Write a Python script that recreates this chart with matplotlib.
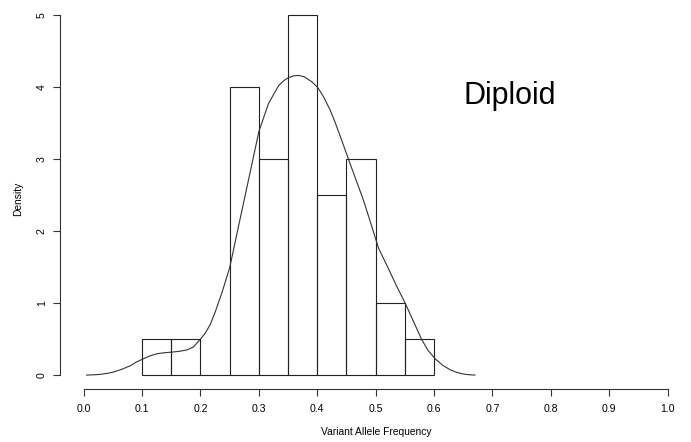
import matplotlib
matplotlib.use("Agg")
import matplotlib.pyplot as plt

plt.rcParams['font.family'] = ['Liberation Sans', 'DejaVu Sans']

# histogram of variant allele frequency (density scale)
bin_left = [0.10, 0.15, 0.20, 0.25, 0.30, 0.35, 0.40, 0.45, 0.50, 0.55]
bin_width = 0.05
density = [0.5, 0.5, 0.0, 4.0, 3.0, 5.0, 2.5, 3.0, 1.0, 0.5]

# kernel density curve
kde_x = [0.005, 0.02, 0.03, 0.041, 0.051, 0.065, 0.080, 0.090, 0.101, 0.113,
         0.125, 0.138, 0.151, 0.164, 0.177, 0.188, 0.200, 0.208, 0.2166, 0.225,
         0.237, 0.250, 0.265, 0.282, 0.300, 0.3165, 0.334, 0.343, 0.351, 0.360,
         0.368, 0.378, 0.391, 0.401, 0.411, 0.422, 0.430, 0.440, 0.4507, 0.460,
         0.470, 0.479, 0.490, 0.505, 0.520, 0.535, 0.5505, 0.565, 0.579, 0.590,
         0.602, 0.615, 0.628, 0.637, 0.645, 0.653, 0.661, 0.670]
kde_y = [0.0, 0.005, 0.012, 0.025, 0.042, 0.08, 0.13, 0.18, 0.222, 0.265,
         0.296, 0.31, 0.319, 0.33, 0.35, 0.39, 0.50, 0.58, 0.70, 0.87,
         1.15, 1.49, 2.06, 2.70, 3.38, 3.77, 4.02, 4.09, 4.13, 4.155,
         4.16, 4.14, 4.07, 3.99, 3.86, 3.68, 3.52, 3.30, 3.06, 2.85,
         2.63, 2.43, 2.15, 1.76, 1.51, 1.25, 1.0, 0.74, 0.49, 0.34,
         0.225, 0.135, 0.072, 0.043, 0.024, 0.011, 0.004, 0.0]

x_ticks = [0.0, 0.1, 0.2, 0.3, 0.4, 0.5, 0.6, 0.7, 0.8, 0.9, 1.0]
y_ticks = [0, 1, 2, 3, 4, 5]

fig = plt.figure(figsize=(6.91, 4.42), dpi=100)
ax = fig.add_axes([0.0873, 0.1188, 0.9127, 0.8801])

ax.bar(bin_left, density, width=bin_width, align='edge', fill=False,
       edgecolor='#222222', linewidth=0.8)
ax.plot(kde_x, kde_y, color='#333333', linewidth=0.8,
        solid_joinstyle='round')

ax.text(0.65, 3.77, "Diploid", fontsize=22, ha='left', va='baseline')

ax.set_xlim(-0.04, 1.04)
ax.set_ylim(-0.2, 5.2)

for side in ['top', 'right']:
    ax.spines[side].set_visible(False)
ax.spines['left'].set_bounds(0, 5)
ax.spines['bottom'].set_bounds(0, 1)
for side in ['left', 'bottom']:
    ax.spines[side].set_linewidth(0.8)
    ax.spines[side].set_color('#333333')

ax.set_xticks(x_ticks)
ax.set_xticklabels([f"{t:.1f}" for t in x_ticks])
ax.set_yticks(y_ticks)
ax.set_yticklabels([str(t) for t in y_ticks], rotation=90, va='center')
ax.tick_params(axis='both', length=4.8, width=0.8, color='#333333',
               labelsize=7.6, direction='out')
ax.tick_params(axis='x', pad=6)
ax.tick_params(axis='y', pad=5)

ax.set_xlabel("Variant Allele Frequency", fontsize=7.4)
ax.set_ylabel("Density", fontsize=7.4)
ax.xaxis.set_label_coords(0.5006, -0.109)
ax.yaxis.set_label_coords(-0.0666, 0.49)
ax.xaxis.label.set_va('center')
ax.yaxis.label.set_va('center')

fig.savefig("out.png", dpi=100)
